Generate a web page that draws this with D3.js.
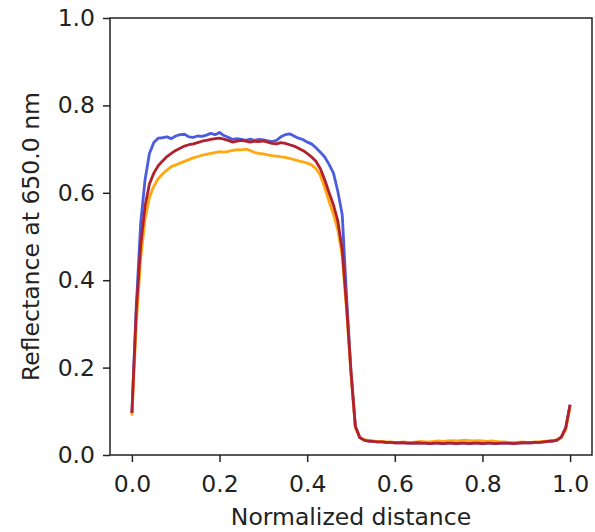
<!DOCTYPE html>
<html>
<head>
<meta charset="utf-8">
<script src="https://cdn.jsdelivr.net/npm/d3@7"></script>
<style>
  html, body { margin: 0; padding: 0; background: #fff; }
  svg { display: block; }
  text { font-family: "DejaVu Sans", sans-serif; fill: #222; }
</style>
</head>
<body>
<svg id="chart" width="595" height="532"></svg>
<script>
// ---------------- data ----------------
const distance = d3.range(0, 101).map(i => +(i / 100).toFixed(2));

const blueSeries = [
  0.096, 0.34, 0.53, 0.63, 0.69, 0.715, 0.725, 0.726, 0.728, 0.724,
  0.730, 0.733, 0.734, 0.728, 0.727, 0.730, 0.729, 0.732, 0.736, 0.733,
  0.738, 0.731, 0.727, 0.722, 0.724, 0.722, 0.720, 0.723, 0.720, 0.722,
  0.721, 0.719, 0.717, 0.720, 0.728, 0.733, 0.735, 0.730, 0.725, 0.722,
  0.716, 0.712, 0.703, 0.693, 0.682, 0.665, 0.645, 0.603, 0.550, 0.360,
  0.190, 0.065, 0.040, 0.034, 0.032, 0.031, 0.030, 0.030, 0.029, 0.029,
  0.028, 0.028, 0.028, 0.027, 0.027, 0.028, 0.027, 0.027, 0.026, 0.027,
  0.027, 0.026, 0.027, 0.027, 0.026, 0.027, 0.027, 0.026, 0.027, 0.027,
  0.026, 0.027, 0.027, 0.026, 0.027, 0.027, 0.027, 0.026, 0.027, 0.028,
  0.028, 0.028, 0.029, 0.029, 0.030, 0.031, 0.032, 0.034, 0.041, 0.062,
  0.115
];

const orangeSeries = [
  0.090, 0.30, 0.45, 0.54, 0.59, 0.615, 0.632, 0.643, 0.652, 0.660,
  0.664, 0.668, 0.672, 0.676, 0.680, 0.683, 0.686, 0.688, 0.690, 0.692,
  0.694, 0.693, 0.695, 0.697, 0.699, 0.698, 0.700, 0.697, 0.692, 0.690,
  0.689, 0.687, 0.685, 0.684, 0.682, 0.681, 0.679, 0.676, 0.673, 0.671,
  0.668, 0.664, 0.655, 0.640, 0.612, 0.580, 0.550, 0.515, 0.455, 0.330,
  0.185, 0.062, 0.040, 0.035, 0.033, 0.032, 0.031, 0.031, 0.030, 0.030,
  0.029, 0.029, 0.030, 0.029, 0.029, 0.030, 0.031, 0.030, 0.030, 0.031,
  0.032, 0.031, 0.032, 0.033, 0.032, 0.033, 0.034, 0.033, 0.032, 0.033,
  0.032, 0.031, 0.032, 0.031, 0.030, 0.030, 0.029, 0.029, 0.029, 0.030,
  0.029, 0.029, 0.030, 0.030, 0.031, 0.032, 0.033, 0.035, 0.040, 0.058,
  0.110
];

const redSeries = [
  0.096, 0.33, 0.48, 0.57, 0.62, 0.645, 0.662, 0.673, 0.683, 0.690,
  0.697, 0.702, 0.707, 0.710, 0.712, 0.715, 0.718, 0.720, 0.722, 0.724,
  0.725, 0.723, 0.720, 0.716, 0.718, 0.720, 0.718, 0.716, 0.718, 0.717,
  0.719, 0.716, 0.713, 0.712, 0.715, 0.713, 0.710, 0.707, 0.702, 0.697,
  0.690, 0.682, 0.672, 0.655, 0.630, 0.600, 0.572, 0.535, 0.470, 0.340,
  0.190, 0.065, 0.040, 0.034, 0.032, 0.031, 0.030, 0.030, 0.029, 0.029,
  0.028, 0.028, 0.028, 0.027, 0.027, 0.028, 0.027, 0.027, 0.026, 0.027,
  0.027, 0.026, 0.027, 0.027, 0.026, 0.027, 0.027, 0.026, 0.027, 0.027,
  0.026, 0.027, 0.027, 0.026, 0.027, 0.027, 0.027, 0.026, 0.027, 0.028,
  0.028, 0.028, 0.029, 0.029, 0.030, 0.031, 0.032, 0.034, 0.041, 0.062,
  0.115
];

const seriesNames = ["blue", "orange", "red"];
const seriesColors = ["#4a5ce0", "#ffa812", "#b0202e"];
const xTicks = [0.0, 0.2, 0.4, 0.6, 0.8, 1.0];
const yTicks = [0.0, 0.2, 0.4, 0.6, 0.8, 1.0];
const xLabel = "Normalized distance";
const yLabel = "Reflectance at 650.0 nm";

// ---------------- chart ----------------
const svg = d3.select("#chart");
const margin = { left: 110, right: 3, top: 18, bottom: 77 };
const W = 595, H = 532;
const FS = 23.5;

const x = d3.scaleLinear().domain([-0.05, 1.05]).range([margin.left, W - margin.right]);
const y = d3.scaleLinear().domain([0, 1]).range([H - margin.bottom, margin.top]);

const series = [blueSeries, orangeSeries, redSeries];

const line = d3.line()
  .x((d, i) => x(distance[i]))
  .y(d => y(d));

svg.append("g")
  .selectAll("path")
  .data(series)
  .join("path")
  .attr("d", d => line(d))
  .attr("fill", "none")
  .attr("stroke", (d, i) => seriesColors[i])
  .attr("stroke-width", 2.8)
  .attr("stroke-linejoin", "round")
  .attr("stroke-linecap", "butt");

// axes
const fmt = d3.format(".1f");
const xAxis = d3.axisBottom(x).tickValues(xTicks).tickFormat(fmt).tickSize(7).tickPadding(13);
const yAxis = d3.axisLeft(y).tickValues(yTicks).tickFormat(fmt).tickSize(7).tickPadding(8);

const gx = svg.append("g").attr("transform", `translate(0,${H - margin.bottom})`).call(xAxis);
const gy = svg.append("g").attr("transform", `translate(${margin.left},0)`).call(yAxis);
[gx, gy].forEach(g => {
  g.select(".domain").remove();
  g.selectAll(".tick line").attr("stroke", "#222").attr("stroke-width", 1.5);
  g.selectAll(".tick text").attr("font-size", FS).attr("font-family", "DejaVu Sans").attr("fill", "#222");
});

// frame (spines)
svg.append("rect")
  .attr("x", margin.left)
  .attr("y", margin.top)
  .attr("width", W - margin.right - margin.left)
  .attr("height", H - margin.bottom - margin.top)
  .attr("fill", "none")
  .attr("stroke", "#222")
  .attr("stroke-width", 1.5);

// labels
svg.append("text")
  .attr("x", (margin.left + W - margin.right) / 2)
  .attr("y", 525)
  .attr("text-anchor", "middle")
  .attr("font-size", FS)
  .text(xLabel);

svg.append("text")
  .attr("transform", `translate(39,${(margin.top + H - margin.bottom) / 2}) rotate(-90)`)
  .attr("text-anchor", "middle")
  .attr("font-size", FS)
  .text(yLabel);
</script>
</body>
</html>
